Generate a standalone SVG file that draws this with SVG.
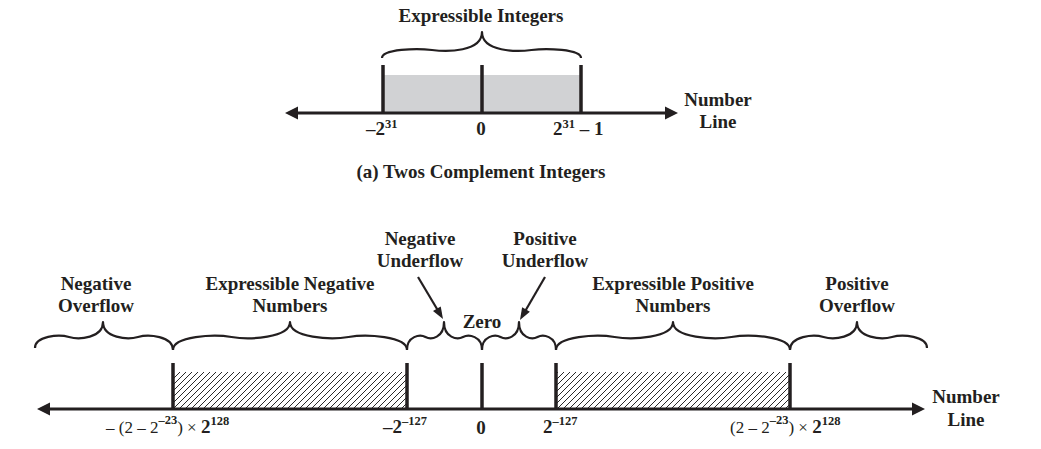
<svg xmlns="http://www.w3.org/2000/svg" width="1041" height="449" viewBox="0 0 1041 449">
<style>
.t{font-family:"Liberation Serif","Times New Roman",serif;font-weight:bold;font-size:19px;fill:#231f20;text-anchor:middle}
.m{font-family:"Liberation Serif","Times New Roman",serif;font-weight:bold;font-size:19px;fill:#231f20}
.n{font-weight:normal}
.sup{font-size:12.5px;font-weight:bold}
.ax{stroke:#231f20;stroke-width:3;fill:none}
.bar{stroke:#231f20;stroke-width:3.5}
.br{stroke:#231f20;stroke-width:2.2;fill:none;stroke-linejoin:round}
.ar{stroke:#231f20;stroke-width:2.2;fill:none}
</style>
<defs>
<marker id="axh" markerUnits="userSpaceOnUse" markerWidth="14" markerHeight="14" refX="4" refY="6.5" orient="auto-start-reverse" overflow="visible">
<path d="M0,0 L13,6.5 L0,13 z" fill="#231f20"/>
</marker>
<marker id="arh" markerUnits="userSpaceOnUse" markerWidth="13" markerHeight="10" refX="3" refY="4.5" orient="auto" overflow="visible">
<path d="M0,0 L12,4.5 L0,9 z" fill="#231f20"/>
</marker>
<pattern id="hatch" patternUnits="userSpaceOnUse" width="6" height="6">
<path d="M-1,7 L7,-1 M-1,1 L1,-1 M5,7 L7,5" stroke="#2a2a2a" stroke-width="1"/>
</pattern>
</defs>

<g id="part-a">
<g id="a-range">
<rect x="383" y="75" width="198" height="38" fill="#d1d2d4"/>
<line class="bar" x1="383" y1="65" x2="383" y2="113"/>
<line class="bar" x1="482" y1="65" x2="482" y2="113"/>
<line class="bar" x1="581" y1="65" x2="581" y2="113"/>
</g>
<g id="a-brace">
<path class="br" d="M382,58 C382,49 417,48 432,50 S482,52 482,32 C482,52 517,52 531.5,50 S581,49 581,58"/>
<text class="t" x="481" y="22">Expressible Integers</text>
</g>
<g id="a-axis">
<line class="ax" x1="294" y1="113" x2="669" y2="113" marker-start="url(#axh)" marker-end="url(#axh)"/>
<text class="t" x="718" y="106">Number</text>
<text class="t" x="718" y="128">Line</text>
</g>
<g id="a-ticks">
<text class="m" x="366" y="135">–2<tspan class="sup" font-size="13" dy="-7">31</tspan></text>
<text class="m" x="481" y="135" text-anchor="middle" font-size="13">0</text>
<text class="m" x="553" y="135">2<tspan class="sup" font-size="13" dy="-7">31</tspan><tspan dy="7"> – 1</tspan></text>
</g>
<text class="t" x="481" y="178">(a) Twos Complement Integers</text>
</g>

<g id="part-b">
<g id="b-ranges">
<rect x="173" y="372" width="234" height="37" fill="url(#hatch)"/>
<rect x="556" y="372" width="234" height="37" fill="url(#hatch)"/>
<line class="bar" x1="173" y1="363" x2="173" y2="409"/>
<line class="bar" x1="407" y1="363" x2="407" y2="409"/>
<line class="bar" x1="482" y1="363" x2="482" y2="409"/>
<line class="bar" x1="556" y1="363" x2="556" y2="409"/>
<line class="bar" x1="790" y1="363" x2="790" y2="409"/>
</g>
<g id="b-axis">
<line class="ax" x1="46" y1="409" x2="916" y2="409" marker-start="url(#axh)" marker-end="url(#axh)"/>
<text class="t" x="966" y="403">Number</text>
<text class="t" x="966" y="426">Line</text>
</g>
<g id="b-braces">
<path class="br" d="M35,348 C35,336 58.8,334 69,337 S103,338 103,322 C103,338 127.5,340 138,337 S173,336 173,350"/>
<path class="br" d="M173,350 C173,336 214,334 231.5,337 S290,338 290,322 C290,338 331,340 348.5,337 S407,336 407,350"/>
<path class="br" d="M407,350 C407,336 420,334 425.5,337 S444,338 444,322 C444,338 457.3,340 463,337 S482,336 482,350"/>
<path class="br" d="M482,350 C482,336 495,334 500.5,337 S519,338 519,322 C519,338 532,340 537.5,337 S556,336 556,350"/>
<path class="br" d="M556,350 C556,336 597,334 614.5,337 S673,338 673,322 C673,338 714,340 731.5,337 S790,336 790,350"/>
<path class="br" d="M790,350 C790,336 813.5,334 823.5,337 S857,338 857,322 C857,338 881.5,340 892,337 S927,336 927,348"/>
</g>
<g id="neg-overflow">
<text class="t" x="96" y="290">Negative</text>
<text class="t" x="96" y="312">Overflow</text>
</g>
<g id="exp-negative">
<text class="t" x="290" y="290">Expressible Negative</text>
<text class="t" x="290" y="312">Numbers</text>
</g>
<g id="neg-underflow">
<text class="t" x="420" y="245">Negative</text>
<text class="t" x="420" y="267">Underflow</text>
</g>
<g id="zero">
<text class="t" x="482" y="328">Zero</text>
</g>
<g id="pos-underflow">
<text class="t" x="545" y="245">Positive</text>
<text class="t" x="545" y="267">Underflow</text>
</g>
<g id="exp-positive">
<text class="t" x="673" y="290">Expressible Positive</text>
<text class="t" x="673" y="312">Numbers</text>
</g>
<g id="pos-overflow">
<text class="t" x="857" y="290">Positive</text>
<text class="t" x="857" y="312">Overflow</text>
</g>
<g id="b-ticks">
<text class="m" x="106" y="433"><tspan class="n" font-size="17">– (2 – 2</tspan><tspan class="sup" dy="-9">–23</tspan><tspan class="n" font-size="17" dy="9">) × </tspan>2<tspan class="sup" font-size="13" dy="-8">128</tspan></text>
<text class="m" x="383" y="433">–2<tspan class="sup" font-size="13" dy="-8">–127</tspan></text>
<text class="m" x="481" y="434" text-anchor="middle" font-size="15">0</text>
<text class="m" x="543" y="433">2<tspan class="sup" font-size="13" dy="-8">–127</tspan></text>
<text class="m" x="730" y="433"><tspan class="n" font-size="17">(2 – 2</tspan><tspan class="sup" dy="-9">–23</tspan><tspan class="n" font-size="17" dy="9">) × </tspan>2<tspan class="sup" font-size="13" dy="-8">128</tspan></text>
</g>
</g>

<g id="connectors">
<line class="ar" x1="418" y1="277" x2="438.4" y2="311.3" marker-end="url(#arh)"/>
<line class="ar" x1="545" y1="277" x2="524.5" y2="312.2" marker-end="url(#arh)"/>
</g>
</svg>
